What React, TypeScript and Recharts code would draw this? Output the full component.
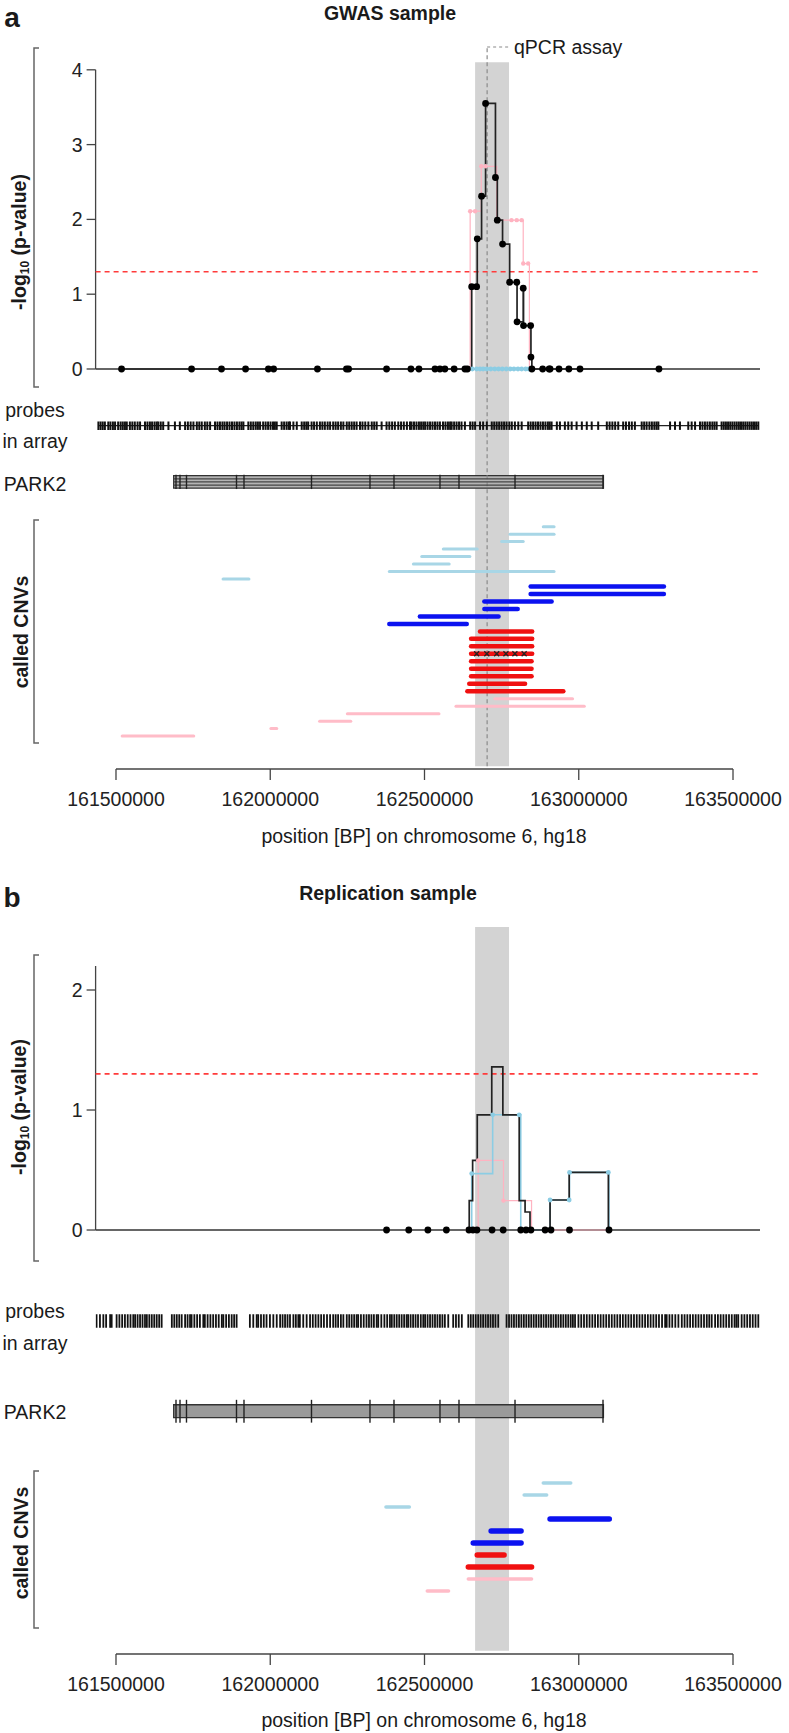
import React from 'react';
import { ComposedChart, Line, Scatter, XAxis, YAxis, ReferenceLine, ReferenceArea } from 'recharts';

const FONT = '"Liberation Sans", Arial, Helvetica, sans-serif';
const W = 789;

// positions in Mb, chromosome 6 (hg18)
const xTicks = [161.5, 162, 162.5, 163, 163.5];
const xDomain: [number, number] = [161.4339, 163.5875];
const cnvRegion = [162.664, 162.774];
const qpcrPos = 162.703;
const sigLine = 1.301; // -log10(0.05)

// PARK2 gene body and exons
const park2 = [161.687, 163.08];
const park2Exons = [161.6945, 161.7075, 161.7285, 161.8906, 161.9149, 162.1337, 162.3233, 162.4011, 162.5502, 162.6118, 162.7934, 163.0786];

// GWAS sample: [position, -log10 p]
const gwasTest = [
  [161.518, 0], [161.745, 0], [161.842, 0], [161.92, 0], [161.994, 0], [162.011, 0], [162.153, 0], [162.247, 0],
  [162.254, 0], [162.377, 0], [162.456, 0], [162.482, 0], [162.534, 0], [162.55, 0], [162.566, 0], [162.596, 0],
  [162.631, 0], [162.639, 0], [162.653, 1.1], [162.669, 1.1], [162.671, 1.74], [162.685, 2.31], [162.698, 3.55],
  [162.73, 2.56], [162.736, 1.99], [162.753, 1.67], [162.776, 1.16], [162.799, 1.16], [162.8, 0.63], [162.82, 1.08],
  [162.821, 0.58], [162.844, 0.58], [162.845, 0.16], [162.848, 0], [162.883, 0], [162.904, 0], [162.907, 0],
  [162.936, 0], [162.968, 0], [163.004, 0], [163.26, 0],
];
const gwasPink = [
  [162.64, 0], [162.648, 2.11], [162.664, 2.11], [162.684, 2.71], [162.698, 2.71], [162.734, 1.99], [162.782, 1.99],
  [162.799, 1.99], [162.815, 1.99], [162.82, 1.41], [162.836, 1.41], [162.84, 0],
];
const gwasBlue = [
  [162.655, 0], [162.669, 0], [162.68, 0], [162.69, 0], [162.702, 0], [162.715, 0], [162.728, 0], [162.74, 0],
  [162.752, 0], [162.765, 0], [162.778, 0], [162.79, 0], [162.803, 0], [162.815, 0], [162.828, 0], [162.838, 0],
];
const gwasProbes = [
  161.443, 161.45, 161.457, 161.464, 161.475, 161.482, 161.49, 161.497, 161.507, 161.515, 161.522, 161.529, 161.535,
  161.545, 161.553, 161.561, 161.57, 161.578, 161.594, 161.602, 161.61, 161.617, 161.625, 161.632, 161.637, 161.645,
  161.653, 161.67, 161.691, 161.707, 161.724, 161.733, 161.742, 161.751, 161.762, 161.77, 161.778, 161.788, 161.796,
  161.805, 161.821, 161.829, 161.837, 161.845, 161.852, 161.86, 161.868, 161.876, 161.884, 161.892, 161.9, 161.907,
  161.913, 161.929, 161.937, 161.945, 161.953, 161.96, 161.967, 161.977, 161.985, 161.993, 162.001, 162.009, 162.015,
  162.021, 162.037, 162.045, 162.053, 162.06, 162.064, 162.075, 162.086, 162.102, 162.11, 162.117, 162.123, 162.134,
  162.142, 162.151, 162.161, 162.169, 162.177, 162.186, 162.194, 162.204, 162.212, 162.22, 162.229, 162.237, 162.248,
  162.256, 162.264, 162.272, 162.28, 162.291, 162.299, 162.308, 162.318, 162.329, 162.337, 162.345, 162.361, 162.377,
  162.386, 162.395, 162.404, 162.415, 162.424, 162.433, 162.443, 162.453, 162.458, 162.466, 162.474, 162.482, 162.489,
  162.496, 162.502, 162.51, 162.518, 162.526, 162.534, 162.542, 162.55, 162.56, 162.568, 162.576, 162.583, 162.588,
  162.596, 162.604, 162.612, 162.62, 162.631, 162.648, 162.656, 162.664, 162.68, 162.69, 162.702, 162.718, 162.726,
  162.734, 162.742, 162.75, 162.758, 162.766, 162.775, 162.783, 162.793, 162.804, 162.815, 162.836, 162.844, 162.852,
  162.86, 162.868, 162.876, 162.884, 162.892, 162.9, 162.906, 162.912, 162.929, 162.939, 162.955, 162.966, 162.977,
  162.993, 163.01, 163.026, 163.042, 163.063, 163.091, 163.1, 163.109, 163.118, 163.128, 163.144, 163.153, 163.163,
  163.172, 163.182, 163.204, 163.212, 163.22, 163.229, 163.237, 163.245, 163.252, 163.258, 163.296, 163.312, 163.328,
  163.355, 163.366, 163.377, 163.393, 163.401, 163.409, 163.417, 163.425, 163.433, 163.44, 163.447, 163.463, 163.47,
  163.477, 163.484, 163.491, 163.498, 163.505, 163.512, 163.519, 163.526, 163.533, 163.54, 163.547, 163.554, 163.561,
  163.568, 163.575, 163.582,
];
// called CNVs, one per row from the top: [start, end, colour]
const gwasCnvs: [number, number, string][] = [
  [162.885, 162.92, 'lightblue'], [162.777, 162.92, 'lightblue'], [162.75, 162.82, 'lightblue'],
  [162.561, 162.671, 'lightblue'], [162.491, 162.647, 'lightblue'], [162.464, 162.58, 'lightblue'],
  [162.386, 162.92, 'lightblue'], [161.847, 161.931, 'lightblue'],
  [162.844, 163.276, 'blue'], [162.844, 163.276, 'blue'], [162.694, 162.912, 'blue'], [162.694, 162.802, 'blue'],
  [162.485, 162.74, 'blue'], [162.386, 162.637, 'blue'],
  [162.68, 162.849, 'red'], [162.651, 162.849, 'red'], [162.651, 162.849, 'red'], [162.651, 162.849, 'red'],
  [162.651, 162.847, 'red'], [162.651, 162.847, 'red'], [162.651, 162.847, 'red'], [162.645, 162.826, 'red'],
  [162.639, 162.95, 'red'],
  [162.728, 162.98, 'pink'], [162.602, 163.018, 'pink'], [162.25, 162.547, 'pink'], [162.16, 162.261, 'pink'],
  [162.002, 162.021, 'pink'], [161.52, 161.752, 'pink'],
];
const gwasCrossRow = 17;
const gwasCrosses = [162.669, 162.702, 162.734, 162.764, 162.793, 162.823];

// Replication sample
const repTest = [
  [162.64, 0], [162.645, 0.245], [162.656, 0.58], [162.671, 0.96], [162.718, 1.36], [162.754, 0.96], [162.807, 0.245],
  [162.826, 0.15], [162.842, 0], [162.907, 0.25], [162.969, 0.48], [163.096, 0],
];
const repPink = [[162.64, 0], [162.674, 0.58], [162.756, 0.245], [162.847, 0], [162.905, 0], [163.1, 0]];
const repBlue = [
  [162.64, 0], [162.653, 0.47], [162.721, 0.96], [162.807, 0.96], [162.812, 0], [162.907, 0.25], [162.969, 0.25],
  [162.97, 0.48], [163.096, 0.48], [163.098, 0],
];
const repZeros = [
  162.377, 162.449, 162.511, 162.571, 162.644, 162.657, 162.67, 162.719, 162.755, 162.812, 162.829, 162.845, 162.891,
  162.91, 162.97, 163.098,
];
const repProbes = [
  161.437, 161.448, 161.459, 161.468, 161.481, 161.486, 161.502, 161.511, 161.52, 161.529, 161.538, 161.547, 161.556,
  161.562, 161.57, 161.578, 161.586, 161.594, 161.6, 161.608, 161.616, 161.624, 161.632, 161.64, 161.648, 161.681,
  161.689, 161.697, 161.705, 161.713, 161.724, 161.732, 161.74, 161.745, 161.754, 161.763, 161.772, 161.783, 161.788,
  161.797, 161.806, 161.815, 161.824, 161.833, 161.843, 161.848, 161.857, 161.866, 161.875, 161.883, 161.891, 161.934,
  161.945, 161.956, 161.961, 161.97, 161.979, 161.988, 161.999, 162.01, 162.021, 162.032, 162.04, 162.048, 162.056,
  162.064, 162.075, 162.083, 162.091, 162.096, 162.107, 162.118, 162.129, 162.138, 162.147, 162.156, 162.165, 162.174,
  162.184, 162.194, 162.204, 162.212, 162.22, 162.229, 162.237, 162.248, 162.256, 162.264, 162.272, 162.28, 162.285,
  162.294, 162.303, 162.312, 162.32, 162.328, 162.336, 162.345, 162.35, 162.36, 162.37, 162.379, 162.388, 162.394,
  162.402, 162.41, 162.418, 162.426, 162.434, 162.442, 162.447, 162.455, 162.463, 162.471, 162.479, 162.488, 162.496,
  162.502, 162.51, 162.518, 162.526, 162.534, 162.542, 162.55, 162.558, 162.566, 162.577, 162.593, 162.602, 162.611,
  162.621, 162.642, 162.65, 162.658, 162.666, 162.674, 162.682, 162.69, 162.698, 162.706, 162.714, 162.722, 162.73,
  162.739, 162.766, 162.774, 162.782, 162.79, 162.798, 162.806, 162.814, 162.822, 162.83, 162.838, 162.846, 162.854,
  162.862, 162.87, 162.878, 162.886, 162.894, 162.902, 162.91, 162.918, 162.926, 162.934, 162.942, 162.95, 162.958,
  162.966, 162.974, 162.981, 162.988, 162.999, 163.008, 163.017, 163.026, 163.035, 163.044, 163.053, 163.062, 163.071,
  163.08, 163.089, 163.098, 163.107, 163.116, 163.125, 163.134, 163.143, 163.152, 163.161, 163.17, 163.179, 163.188,
  163.197, 163.206, 163.215, 163.224, 163.233, 163.242, 163.251, 163.26, 163.27, 163.28, 163.285, 163.294, 163.303,
  163.313, 163.323, 163.334, 163.343, 163.352, 163.361, 163.37, 163.379, 163.388, 163.397, 163.406, 163.415, 163.423,
  163.431, 163.442, 163.451, 163.46, 163.469, 163.478, 163.487, 163.496, 163.505, 163.511, 163.517, 163.528, 163.537,
  163.546, 163.555, 163.564, 163.573, 163.582,
];
const repCnvs: [number, number, string][] = [
  [162.885, 162.974, 'lightblue'], [162.823, 162.896, 'lightblue'], [162.375, 162.451, 'lightblue'],
  [162.907, 163.099, 'blue'], [162.716, 162.813, 'blue'], [162.658, 162.813, 'blue'],
  [162.671, 162.758, 'red'], [162.642, 162.847, 'red'],
  [162.642, 162.847, 'pink'], [162.509, 162.578, 'pink'],
];

const cnvColor: Record<string, string> = { lightblue: '#a8d6e6', blue: '#0b12f0', red: '#f01010', pink: '#ffbcc8' };
const fmt = (v: number) => (v * 1e6).toFixed(0);
const pts = (a: number[][]) => a.map(([x, y]) => ({ x, y }));

type PanelProps = {
  top: number; plotH: number; yDomain: [number, number]; yTicks: number[]; yAxisTop: number;
  bandTop: number; bandBottom: number; test: number[][]; pink: number[][]; blue: number[][];
  zeros?: number[]; probes: number[]; cnvs: [number, number, string][]; crossRow?: number; crosses?: number[];
  thin: number; thick: number; geneHalf: number; qpcr: boolean; striped: boolean;
};

function Panel(p: PanelProps) {
  const [y0, y1] = p.yDomain;
  const unit = p.plotH / (y1 - y0);
  const probeY = -0.758, geneY = -1.51;
  const rowY = (i: number) => -2.108 - 0.1 * i;
  const tickFont = { fontSize: 19.5, fill: '#222', fontFamily: FONT };
  const blueDot = (d: any) =>
    d.payload.y > 0 ? <circle key={d.index} cx={d.cx} cy={d.cy} r={2.4} fill="#8ccde4" /> : <g key={d.index} />;
  return (
    <div style={{ position: 'absolute', left: 0, top: p.top }}>
      <ComposedChart width={W} height={p.plotH + 107} margin={{ top: 47, right: 29, bottom: 0, left: 55.6 }}>
        <XAxis dataKey="x" type="number" domain={xDomain} allowDataOverflow ticks={xTicks} interval={0}
          tickFormatter={fmt} axisLine={false} tickLine={{ stroke: '#444', strokeWidth: 1.3 }} tickSize={11}
          tickMargin={12} height={60} tick={tickFont} />
        <YAxis dataKey="y" type="number" domain={p.yDomain} allowDataOverflow ticks={p.yTicks} interval={0}
          width={40} axisLine={false} tickLine={{ stroke: '#444', strokeWidth: 1.3 }} tickSize={9} tickMargin={4}
          tick={tickFont} />
        <ReferenceArea x1={cnvRegion[0]} x2={cnvRegion[1]} y1={p.bandBottom} y2={p.bandTop} fill="#d3d3d3"
          fillOpacity={1} stroke="none" ifOverflow="visible" />
        {p.qpcr && (
          <ReferenceLine segment={[{ x: qpcrPos, y: p.bandBottom }, { x: qpcrPos, y: y1 }]} stroke="#8a8a8a"
            strokeWidth={1.2} strokeDasharray="4 3" ifOverflow="visible" />
        )}
        {p.qpcr && (
          <ReferenceLine segment={[{ x: qpcrPos, y: y1 }, { x: 162.78, y: y1 }]} stroke="#8a8a8a"
            strokeWidth={1.2} strokeDasharray="3 3" ifOverflow="visible" />
        )}
        <ReferenceLine segment={[{ x: xDomain[0], y: 0 }, { x: xDomain[0], y: p.yAxisTop }]} stroke="#444"
          strokeWidth={1.3} ifOverflow="visible" />
        <ReferenceLine segment={[{ x: xTicks[0], y: y0 }, { x: xTicks[xTicks.length - 1], y: y0 }]} stroke="#444"
          strokeWidth={1.3} ifOverflow="visible" />
        <ReferenceLine y={0} stroke="#333" strokeWidth={1.3} />
        <ReferenceLine y={sigLine} stroke="#ff3b3b" strokeWidth={1.6} strokeDasharray="5 4" />

        <Line data={pts(p.pink)} dataKey="y" type="stepAfter" stroke="#ffb3c1" strokeWidth={1.2}
          dot={{ r: 2.2, fill: '#ffb3c1', stroke: 'none' }} activeDot={false} isAnimationActive={false} />
        <Line data={pts(p.blue)} dataKey="y" type="stepAfter" stroke="#8ccde4" strokeWidth={1.6}
          dot={p.zeros ? blueDot : { r: 2.4, fill: '#8ccde4', stroke: 'none' }} activeDot={false}
          isAnimationActive={false} />
        <Line data={pts(p.test)} dataKey="y" type="stepAfter" stroke="#222" strokeWidth={1.7}
          dot={p.zeros ? false : { r: 3.4, fill: '#000', stroke: 'none' }} activeDot={false}
          isAnimationActive={false} />
        {p.zeros && (
          <Scatter data={p.zeros.map((x) => ({ x, y: 0 }))} dataKey="y" isAnimationActive={false}
            shape={(d: any) => <circle cx={d.cx} cy={d.cy} r={3.4} fill="#000" />} />
        )}

        {p.striped && (
          <ReferenceLine segment={[{ x: p.probes[0], y: probeY }, { x: p.probes[p.probes.length - 1], y: probeY }]}
            stroke="#222" strokeWidth={1.2} />
        )}
        <Scatter data={p.probes.map((x) => ({ x, y: probeY }))} dataKey="y" isAnimationActive={false}
          shape={(d: any) => (
            <line x1={d.cx} x2={d.cx} y1={d.cy - 0.056 * unit} y2={d.cy + 0.056 * unit} stroke="#111"
              strokeWidth={p.striped ? 2 : 1.8} />
          )} />

        <ReferenceArea x1={park2[0]} x2={park2[1]} y1={geneY - p.geneHalf} y2={geneY + p.geneHalf}
          fill={p.striped ? '#b4b4b4' : '#9a9a9a'} fillOpacity={1} stroke="#333" strokeWidth={1.3} />
        {p.striped &&
          [-0.5, 0, 0.5].map((f) => (
            <ReferenceLine key={f} segment={[{ x: park2[0], y: geneY + f * p.geneHalf }, { x: park2[1], y: geneY + f * p.geneHalf }]}
              stroke="#444" strokeWidth={1.2} />
          ))}
        {park2Exons.map((x) => (
          <ReferenceLine key={x} segment={[{ x, y: geneY - 0.095 }, { x, y: geneY + 0.095 }]} stroke="#222"
            strokeWidth={1.4} />
        ))}

        {p.cnvs.map(([s, e, c], i) => (
          <ReferenceLine key={i} segment={[{ x: s, y: rowY(i) }, { x: e, y: rowY(i) }]} stroke={cnvColor[c]}
            strokeWidth={c === 'blue' || c === 'red' ? p.thick : p.thin} strokeLinecap="round" ifOverflow="visible" />
        ))}
        {p.crosses && (
          <Scatter data={p.crosses.map((x) => ({ x, y: rowY(p.crossRow || 0) }))} dataKey="y" isAnimationActive={false}
            shape={(d: any) => (
              <path d={`M${d.cx - 2.5},${d.cy - 2.5}L${d.cx + 2.5},${d.cy + 2.5}M${d.cx - 2.5},${d.cy + 2.5}L${d.cx + 2.5},${d.cy - 2.5}`}
                stroke="#222" strokeWidth={1.3} />
            )} />
        )}
      </ComposedChart>
    </div>
  );
}

function Txt({ x, y, size = 19.5, bold = false, rot = false, start = false, children }: any) {
  return (
    <div style={{
      position: 'absolute', left: x, top: y, fontFamily: FONT, fontSize: size, fontWeight: bold ? 700 : 400,
      lineHeight: 1.15, whiteSpace: 'nowrap', color: '#1a1a1a',
      transform: `translate(${start ? '0' : '-50%'},-50%)${rot ? ' rotate(-90deg)' : ''}`,
    }}>{children}</div>
  );
}

const yLabel = (<>-log<sub style={{ fontSize: 12, verticalAlign: -3 }}>10</sub> (p-value)</>);

function Bracket({ top, bottom }: { top: number; bottom: number }) {
  return <path d={`M39,${top}H34V${bottom}H39`} fill="none" stroke="#666" strokeWidth={1.5} />;
}

export default function App() {
  return (
    <div style={{ position: 'absolute', left: 0, top: 0, width: W, height: 1733, background: '#fff', overflow: 'hidden' }}>
      <Panel top={0} plotH={722} yDomain={[-5.348, 4.305]} yTicks={[0, 1, 2, 3, 4]} yAxisTop={4} bandTop={4.1}
        bandBottom={-5.31} test={gwasTest} pink={gwasPink} blue={gwasBlue} probes={gwasProbes} cnvs={gwasCnvs}
        crossRow={gwasCrossRow} crosses={gwasCrosses} thin={3} thick={4.5} geneHalf={0.084} qpcr striped />
      <Panel top={880} plotH={727} yDomain={[-3.533, 2.525]} yTicks={[0, 1, 2]} yAxisTop={2.2} bandTop={2.525}
        bandBottom={-3.506} test={repTest} pink={repPink} blue={repBlue} zeros={repZeros} probes={repProbes}
        cnvs={repCnvs} thin={3.5} thick={5.5} geneHalf={0.054} qpcr={false} striped={false} />
      <svg width={W} height={1733} style={{ position: 'absolute', left: 0, top: 0, pointerEvents: 'none' }}>
        <Bracket top={48} bottom={387} />
        <Bracket top={520} bottom={743} />
        <Bracket top={955} bottom={1261} />
        <Bracket top={1471} bottom={1628} />
      </svg>
      <Txt x={12} y={18} size={28} bold>a</Txt>
      <Txt x={390} y={13} bold>GWAS sample</Txt>
      <Txt x={514} y={47} start>qPCR assay</Txt>
      <Txt x={20} y={242} bold rot>{yLabel}</Txt>
      <Txt x={35} y={410}>probes</Txt>
      <Txt x={35} y={441}>in array</Txt>
      <Txt x={35} y={484}>PARK2</Txt>
      <Txt x={21} y={632} bold rot>called CNVs</Txt>
      <Txt x={424} y={836}>position [BP] on chromosome 6, hg18</Txt>

      <Txt x={12} y={898} size={28} bold>b</Txt>
      <Txt x={388} y={893} bold>Replication sample</Txt>
      <Txt x={20} y={1107} bold rot>{yLabel}</Txt>
      <Txt x={35} y={1311}>probes</Txt>
      <Txt x={35} y={1343}>in array</Txt>
      <Txt x={35} y={1412}>PARK2</Txt>
      <Txt x={21} y={1543} bold rot>called CNVs</Txt>
      <Txt x={424} y={1720}>position [BP] on chromosome 6, hg18</Txt>
    </div>
  );
}
